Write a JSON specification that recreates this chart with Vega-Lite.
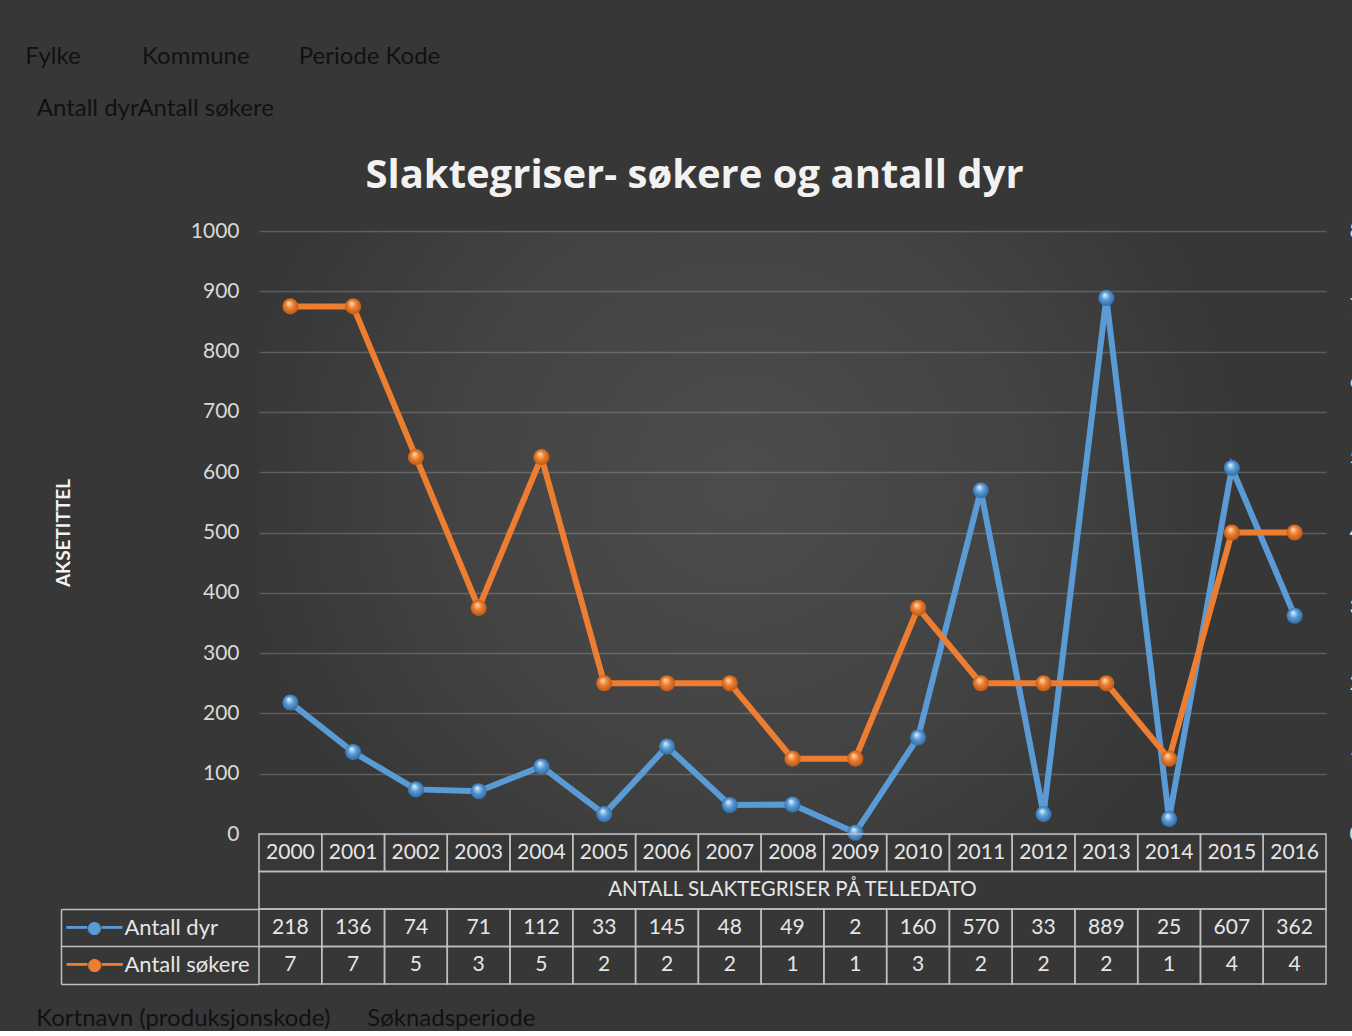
{
  "$schema": "https://vega.github.io/schema/vega-lite/v6.json",
  "background": "#373737",
  "padding": {"left": 25, "top": 45, "right": 0, "bottom": 0},
  "config": {"font": "Lato", "view": {"stroke": null}},
  "title": {
    "text": "Fylke\u00a0\u00a0\u00a0\u00a0\u00a0\u00a0\u00a0\u00a0\u00a0\u00a0Kommune\u00a0\u00a0\u00a0\u00a0\u00a0\u00a0\u00a0\u00a0Periode Kode",
    "subtitle": "\u200b\u00a0\u00a0Antall dyrAntall søkere",
    "anchor": "start",
    "dx": -11,
    "color": "#111111",
    "fontSize": 24,
    "fontWeight": "normal",
    "subtitleColor": "#111111",
    "subtitleFontSize": 24,
    "subtitlePadding": 28,
    "offset": 35
  },
  "datasets": {
    "d": [
      {"year": 2000, "Antall dyr": 218, "Antall søkere": 7},
      {"year": 2001, "Antall dyr": 136, "Antall søkere": 7},
      {"year": 2002, "Antall dyr": 74, "Antall søkere": 5},
      {"year": 2003, "Antall dyr": 71, "Antall søkere": 3},
      {"year": 2004, "Antall dyr": 112, "Antall søkere": 5},
      {"year": 2005, "Antall dyr": 33, "Antall søkere": 2},
      {"year": 2006, "Antall dyr": 145, "Antall søkere": 2},
      {"year": 2007, "Antall dyr": 48, "Antall søkere": 2},
      {"year": 2008, "Antall dyr": 49, "Antall søkere": 1},
      {"year": 2009, "Antall dyr": 2, "Antall søkere": 1},
      {"year": 2010, "Antall dyr": 160, "Antall søkere": 3},
      {"year": 2011, "Antall dyr": 570, "Antall søkere": 2},
      {"year": 2012, "Antall dyr": 33, "Antall søkere": 2},
      {"year": 2013, "Antall dyr": 889, "Antall søkere": 2},
      {"year": 2014, "Antall dyr": 25, "Antall søkere": 1},
      {"year": 2015, "Antall dyr": 607, "Antall søkere": 4},
      {"year": 2016, "Antall dyr": 362, "Antall søkere": 4}
    ]
  },
  "data": {"name": "d"},
  "bounds": "flush",
  "spacing": 0,
  "resolve": {"scale": {"x": "independent", "y": "independent"}},
  "vconcat": [
    {
      "width": 1067,
      "height": 603,
      "title": {
        "text": "Slaktegriser- søkere og antall dyr",
        "font": "Open Sans",
        "fontSize": 40,
        "fontWeight": "bold",
        "color": "#f2f2f2",
        "anchor": "middle",
        "frame": "group",
        "dx": -98,
        "offset": 24
      },
      "layer": [
        {
          "data": {"values": [{"bg": 1}]},
          "mark": {
            "type": "rect",
            "fill": {"gradient": "radial", "x1": 0.45, "y1": 0.45, "r1": 0, "x2": 0.45, "y2": 0.45, "r2": 0.55,
              "stops": [{"offset": 0, "color": "rgba(255,255,255,0.11)"}, {"offset": 0.5, "color": "rgba(255,255,255,0.06)"}, {"offset": 0.85, "color": "rgba(255,255,255,0)"}, {"offset": 1, "color": "rgba(255,255,255,0)"}]}
          },
          "encoding": {}
        },
        {
          "layer": [
            {
              "mark": {"type": "line", "color": "#5b9bd5", "strokeWidth": 6},
              "encoding": {
                "x": {"field": "year", "type": "ordinal", "scale": {"type": "point", "padding": 0.5}, "axis": null},
                "y": {
                  "field": "Antall dyr", "type": "quantitative",
                  "scale": {"domain": [0, 1000], "nice": false},
                  "axis": {
                    "title": "AKSETITTEL", "titleColor": "#f2f2f2", "titleFontSize": 19, "titleFontWeight": "bold", "titlePadding": 117,
                    "values": [0, 100, 200, 300, 400, 500, 600, 700, 800, 900, 1000], "format": "d",
                    "domain": false, "ticks": false, "grid": true, "gridColor": "#5c5c5c", "gridWidth": 1.5,
                    "labelColor": "#d9d9d9", "labelFontSize": 21, "labelPadding": 20
                  }
                }
              }
            },
            {
              "mark": {
                "type": "point", "filled": true, "size": 260, "opacity": 1,
                "fill": {"gradient": "radial", "x1": 0.4, "y1": 0.3, "r1": 0.02, "x2": 0.5, "y2": 0.5, "r2": 0.55,
                  "stops": [{"offset": 0, "color": "#d8eeff"}, {"offset": 0.45, "color": "#5b9bd5"}, {"offset": 1, "color": "#2c659e"}]}
              },
              "encoding": {
                "x": {"field": "year", "type": "ordinal"},
                "y": {"field": "Antall dyr", "type": "quantitative"}
              }
            }
          ]
        },
        {
          "layer": [
            {
              "mark": {"type": "line", "color": "#ed7d31", "strokeWidth": 6},
              "encoding": {
                "x": {"field": "year", "type": "ordinal"},
                "y": {
                  "field": "Antall søkere", "type": "quantitative",
                  "scale": {"domain": [0, 8], "nice": false},
                  "axis": {
                    "orient": "right", "title": null, "values": [0, 1, 2, 3, 4, 5, 6, 7, 8], "format": "d",
                    "domain": false, "ticks": false, "grid": false,
                    "labelColor": "#d9d9d9", "labelFontSize": 21, "labelPadding": 23
                  }
                }
              }
            },
            {
              "mark": {
                "type": "point", "filled": true, "size": 260, "opacity": 1,
                "fill": {"gradient": "radial", "x1": 0.4, "y1": 0.3, "r1": 0.02, "x2": 0.5, "y2": 0.5, "r2": 0.55,
                  "stops": [{"offset": 0, "color": "#ffd9a8"}, {"offset": 0.45, "color": "#ed7d31"}, {"offset": 1, "color": "#b55410"}]}
              },
              "encoding": {
                "x": {"field": "year", "type": "ordinal"},
                "y": {"field": "Antall søkere", "type": "quantitative"}
              }
            }
          ]
        }
      ],
      "resolve": {"scale": {"y": "independent"}}
    },
    {
      "width": 1067,
      "height": 150,
      "title": {
        "text": "Kortnavn (produksjonskode)\u00a0\u00a0\u00a0\u00a0\u00a0\u00a0Søknadsperiode",
        "orient": "bottom", "anchor": "start", "frame": "bounds", "dx": -24,
        "color": "#111111", "fontSize": 24, "fontWeight": "normal", "offset": 22
      },
      "layer": [
        {
          "transform": [{"fold": ["year", "Antall dyr", "Antall søkere"], "as": ["row", "val"]}],
          "mark": {"type": "rect", "fill": "#000000", "fillOpacity": 0, "stroke": "#bfbfbf", "strokeWidth": 1.5},
          "encoding": {
            "x": {"field": "year", "type": "ordinal", "axis": null},
            "y": {
              "field": "row", "type": "nominal",
              "scale": {"domain": ["year", "title", "Antall dyr", "Antall søkere"]},
              "axis": {
                "orient": "left", "title": null, "domain": false, "grid": false,
                "ticks": true, "tickSize": 198, "tickColor": "#bfbfbf", "tickWidth": 1.5, "bandPosition": 1,
                "tickOpacity": {"condition": {"test": "datum.value === 'year'", "value": 0}, "value": 1},
                "labelExpr": "datum.value === 'Antall dyr' || datum.value === 'Antall søkere' ? datum.value : ''",
                "labelAlign": "left", "labelBaseline": "middle", "labelPadding": -63,
                "labelColor": "#e6e6e6", "labelFontSize": 22
              }
            }
          }
        },
        {
          "transform": [{"fold": ["year", "Antall dyr", "Antall søkere"], "as": ["row", "val"]}],
          "mark": {"type": "text", "color": "#e6e6e6", "fontSize": 21},
          "encoding": {
            "x": {"field": "year", "type": "ordinal", "axis": null},
            "y": {
              "field": "row", "type": "nominal",
              "axis": {
                "orient": "left", "offset": 198, "title": null, "grid": false, "ticks": false,
                "domain": true, "domainColor": "#bfbfbf", "domainWidth": 1.5, "domainDash": [0, 75, 80],
                "labelExpr": "datum.value === 'Antall dyr' || datum.value === 'Antall søkere' ? '━━●━━' : ''",
                "labelFont": "DejaVu Sans", "labelFontSize": 17,
                "labelColor": {"condition": {"test": "datum.value === 'Antall dyr'", "value": "#5b9bd5"}, "value": "#ed7d31"},
                "labelAlign": "left", "labelBaseline": "middle", "labelPadding": -5
              }
            },
            "text": {"field": "val", "type": "nominal"}
          }
        },
        {
          "data": {"values": [{"row": "title", "t": "ANTALL SLAKTEGRISER PÅ TELLEDATO"}]},
          "layer": [
            {
              "mark": {"type": "rect", "fill": "#000000", "fillOpacity": 0, "stroke": "#bfbfbf", "strokeWidth": 1.5},
              "encoding": {"y": {"field": "row", "type": "nominal", "axis": null}}
            },
            {
              "mark": {"type": "text", "color": "#e6e6e6", "fontSize": 20.5},
              "encoding": {"y": {"field": "row", "type": "nominal", "axis": null}, "text": {"field": "t", "type": "nominal"}}
            }
          ]
        }
      ],
      "resolve": {"axis": {"y": "independent"}}
    }
  ]
}
